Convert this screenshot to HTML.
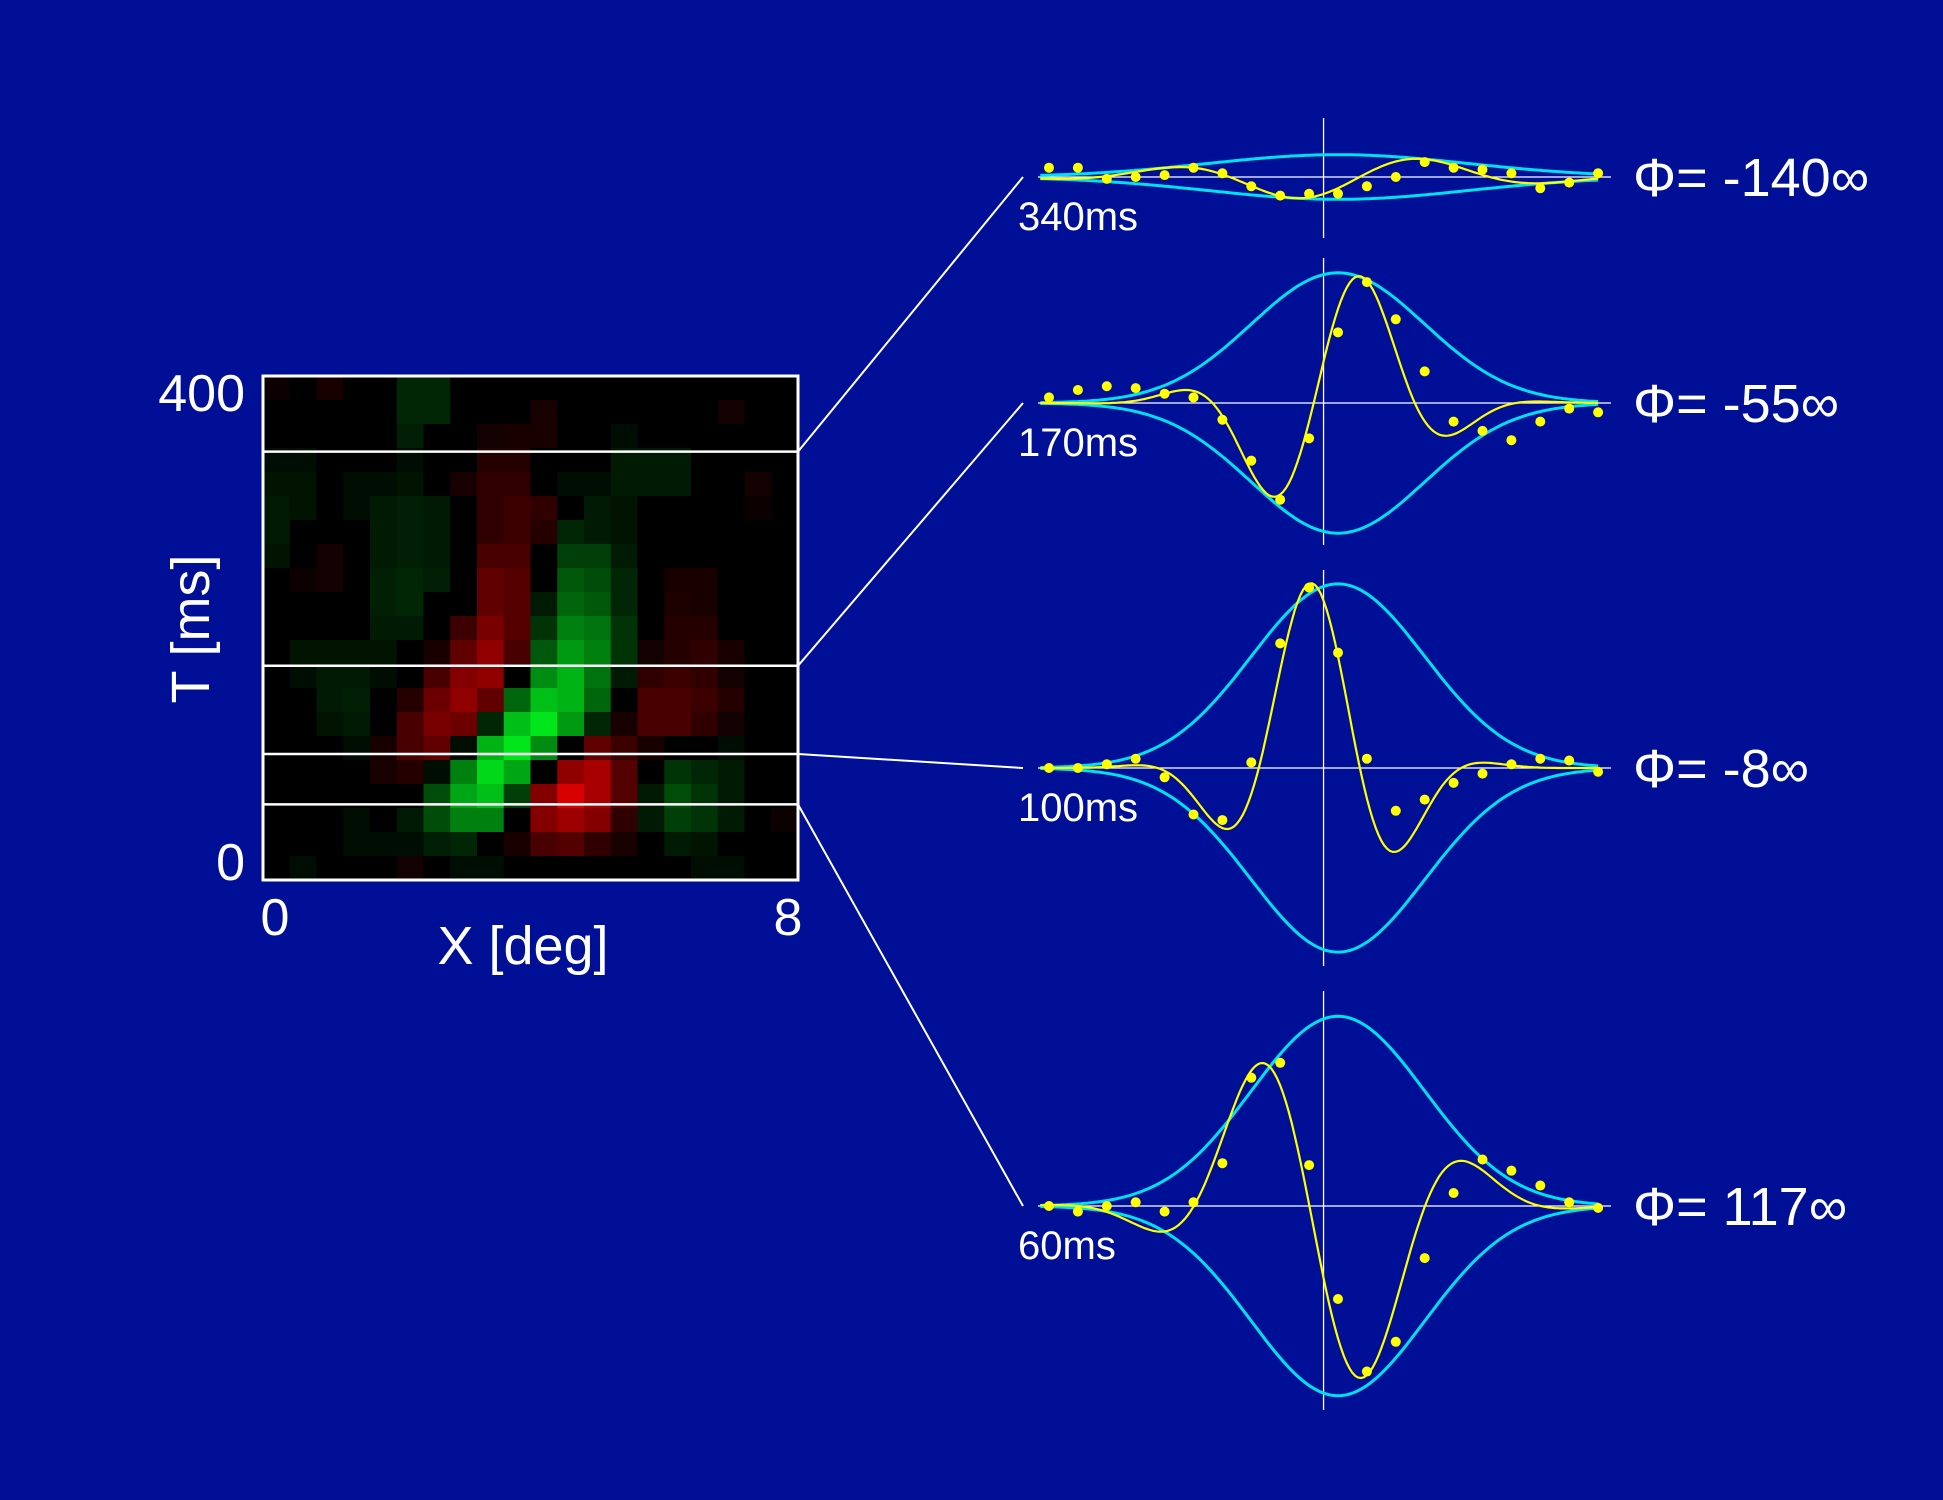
<!DOCTYPE html>
<html><head><meta charset="utf-8">
<style>
html,body{margin:0;padding:0;background:#001096;}
svg{display:block;}
text{font-family:"Liberation Sans",sans-serif;fill:#fff;}
</style></head>
<body>
<svg id="fig" width="1943" height="1500" viewBox="0 0 1943 1500">
<rect x="0" y="0" width="1943" height="1500" fill="#001096"/>
<g id="heat"></g>
<g id="panels"></g>
<text x="245" y="411" font-size="52" text-anchor="end">400</text>
<text x="245" y="880" font-size="52" text-anchor="end">0</text>
<text x="275" y="935" font-size="52" text-anchor="middle">0</text>
<text x="788" y="935" font-size="52" text-anchor="middle">8</text>
<text x="523" y="964" font-size="54" text-anchor="middle">X [deg]</text>
<text x="0" y="0" font-size="54" text-anchor="middle" transform="translate(209,629) rotate(-90)">T [ms]</text>
</svg>
<script>
// Heatmap: 21 rows (top = 400ms) x 20 columns; positive = green, negative = red
const heatRows = [
 [-.05,0,-.1,0,0,.15,.15,0,0,0,0,0,0,0,0,0,0,0,0,0],
 [0,0,0,0,0,.15,.15,0,0,0,-.1,0,0,0,0,0,0,-.08,0,0],
 [0,0,0,0,0,.12,0,0,-.08,-.1,-.1,0,0,.05,0,0,0,0,0,0],
 [.05,.05,0,0,0,.05,0,0,-.15,-.15,0,0,0,.1,.1,.1,0,0,0,0],
 [.08,.08,0,.05,.05,.08,0,-.1,-.2,-.2,0,.05,.05,.1,.1,.1,0,0,-.08,0],
 [.1,.08,0,.05,.1,.12,.1,0,-.2,-.25,-.2,0,.1,.08,0,0,0,0,-.05,0],
 [.1,0,0,0,.1,.12,.1,0,-.2,-.25,-.15,.15,.1,.08,0,0,0,0,0,0],
 [.08,0,-.08,0,.1,.12,.1,0,-.3,-.3,0,.25,.25,.1,0,0,0,0,0,0],
 [0,-.05,-.08,0,.12,.15,.12,0,-.4,-.35,0,.35,.3,.15,0,-.1,-.1,0,0,0],
 [0,0,0,0,.12,.15,0,0,-.4,-.35,.1,.4,.35,.15,0,-.12,-.1,0,0,0],
 [0,0,0,0,.1,.1,0,-.25,-.5,-.35,.2,.5,.45,.2,0,-.15,-.15,0,0,0],
 [0,.08,.08,.08,.08,0,-.1,-.4,-.6,-.3,.35,.6,.5,.2,-.08,-.15,-.2,-.1,0,0],
 [0,.05,.1,.1,.05,0,-.3,-.55,-.6,0,.55,.7,.45,.1,-.2,-.25,-.2,-.08,0,0],
 [0,0,.1,.12,0,-.15,-.45,-.6,-.4,.4,.75,.7,.4,0,-.3,-.3,-.25,-.15,0,0],
 [0,0,.08,.1,0,-.3,-.5,-.45,.15,.75,.9,.6,.15,-.1,-.3,-.3,-.2,-.08,0,0],
 [0,0,0,.05,-.1,-.3,-.4,.05,.7,.9,.55,0,-.4,-.25,-.1,0,0,.05,0,0],
 [0,0,0,0,-.1,-.15,.05,.5,.85,.65,0,-.6,-.7,-.35,0,.2,.15,.1,0,0],
 [0,0,0,0,0,0,.3,.65,.75,.25,-.55,-.9,-.7,-.35,.1,.3,.2,.1,0,0],
 [0,0,0,.05,0,.1,.3,.5,.5,0,-.55,-.65,-.55,-.2,.1,.25,.2,.1,0,-.05],
 [0,0,0,.05,.05,.05,.12,.15,0,-.1,-.3,-.35,-.2,-.1,0,.1,.08,0,0,0],
 [0,.05,0,0,0,-.08,0,.05,.05,0,0,0,0,0,0,0,.05,.05,0,0]
];
const heatTimes = [340,170,100,60];
const tMin = 0, tMax = 400;

// Profiles: sample positions 0..19
const panelTimes = [340,170,100,60];
const panelLabels = ["340ms","170ms","100ms","60ms"];
const phaseLabels = ["Φ= -140∞","Φ= -55∞","Φ= -8∞","Φ= 117∞"];
const envAmp = [0.12,0.70,0.99,1.02];
const envSigma = [4.5,3.0,3.0,3.0];
const fitAmp = [0.12,0.74,1.0,1.03];
const fitCenter = [10,9.8,9.3,9.5];
const fitSigma = [4.5,2.5,2.3,3.0];
const fitPeriod = [9,7,7,8];
const fitPhase = [-120,-57,15,112];
const dots340 = [.05,.05,-.01,0,.01,.05,.02,-.05,-.10,-.09,-.09,-.05,0,.08,.05,.04,.02,-.06,-.03,.02];
const dots170 = [.03,.07,.09,.08,.05,.03,-.09,-.31,-.52,-.19,.38,.65,.45,.17,-.10,-.15,-.20,-.10,-.03,-.05];
const dots100 = [0,0,.02,.05,-.05,-.25,-.28,.03,.67,.97,.62,.05,-.23,-.17,-.08,-.03,.02,.05,.04,-.02];
const dots60 = [0,-.03,0,.02,-.03,.02,.23,.69,.77,.22,-.5,-.89,-.73,-.28,.07,.25,.19,.11,.02,-.01];
const panelDots = [dots340,dots170,dots100,dots60];

const NS = "http://www.w3.org/2000/svg";
function mk(tag, attrs, parent){const e=document.createElementNS(NS,tag);for(const k in attrs)e.setAttribute(k,attrs[k]);parent.appendChild(e);return e;}

const hx0=263,hx1=798,hy0=376,hy1=880;
const nR=heatRows.length,nC=heatRows[0].length;
const cw=(hx1-hx0)/nC,ch=(hy1-hy0)/nR;
const tY=t=>hy1-(t-tMin)/(tMax-tMin)*(hy1-hy0);
const heat=document.getElementById('heat');
heatRows.forEach((row,r)=>row.forEach((v,c)=>{
  let col;
  if(v>=0){col=`rgb(0,${Math.round(Math.min(1,v)*255)},${Math.round(Math.min(1,v)*30)})`;}
  else{col=`rgb(${Math.round(Math.min(1,-v)*240)},0,0)`;}
  const e=mk('rect',{x:hx0+c*cw,y:hy0+r*ch,width:cw+0.6,height:ch+0.6,fill:col},heat);
  
  
}));
const border=mk('rect',{x:hx0,y:hy0,width:hx1-hx0,height:hy1-hy0,fill:'none',stroke:'#fff','stroke-width':3},heat);



const px0=1049,pdx=28.9,unit=186;
const baseY=[177,403,768,1206];
const xP=i=>px0+i*pdx;
const panels=document.getElementById('panels');
const vLine=[[118,238],[258,545],[570,966],[991,1410]];
panelTimes.forEach((t,p)=>{
  const g=mk('g',{},panels);
  
  
  const yb=baseY[p];
  const hl=mk('line',{x1:hx0,x2:hx1,y1:tY(heatTimes[p]),y2:tY(heatTimes[p]),stroke:'#fff','stroke-width':2.5},heat);
  
  
  const cl=mk('line',{x1:hx1,y1:tY(heatTimes[p]),x2:1023,y2:yb,stroke:'#fff','stroke-width':2},g);
  
  
  const bl=mk('line',{x1:1038,x2:1611,y1:yb,y2:yb,stroke:'#fff','stroke-width':1.3},g);
  
  
  const vl=mk('line',{x1:xP(9.5),x2:xP(9.5),y1:vLine[p][0],y2:vLine[p][1],stroke:'#fff','stroke-width':1.3},g);
  
  
  const xc=10;
  const env=x=>envAmp[p]*Math.exp(-((x-xc)**2)/(2*envSigma[p]**2));
  const fenv=x=>fitAmp[p]*Math.exp(-((x-fitCenter[p])**2)/(2*fitSigma[p]**2));
  let up='',dn='',fit='';
  for(let x=-0.3;x<=19.01;x+=0.1){
    const e=env(x);
    const f=fenv(x)*Math.cos(2*Math.PI*(x-fitCenter[p])/fitPeriod[p]+fitPhase[p]*Math.PI/180);
    const c=(up?'L':'M');
    up+=c+xP(x).toFixed(1)+' '+(yb-e*unit).toFixed(1);
    dn+=c+xP(x).toFixed(1)+' '+(yb+e*unit).toFixed(1);
    fit+=c+xP(x).toFixed(1)+' '+(yb-f*unit).toFixed(1);
  }
  const e1=mk('path',{d:up,fill:'none',stroke:'#00e0f0','stroke-width':3},g);
  
  
  const e2=mk('path',{d:dn,fill:'none',stroke:'#00e0f0','stroke-width':3},g);
  
  
  const fp=mk('path',{d:fit,fill:'none',stroke:'#ffff00','stroke-width':2.2},g);
  
  
  panelDots[p].forEach((v,i)=>{
    const d=mk('circle',{cx:xP(i),cy:yb-v*unit,r:5,fill:'#ffff00'},g);
    
    
  });
  const tl=mk('text',{x:1018,y:yb+53,'font-size':40},g);
  tl.textContent=panelLabels[p];
  
  
  const pl=mk('text',{x:1633,y:yb+19,'font-size':54},g);
  pl.textContent=phaseLabels[p];
  
  
});
</script>
</body></html>
